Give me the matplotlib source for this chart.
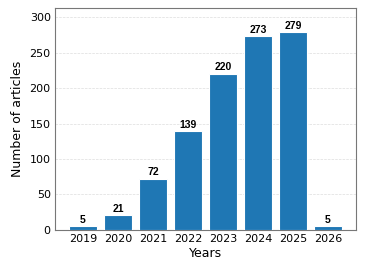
import matplotlib
matplotlib.use("Agg")
import matplotlib.pyplot as plt

years = ["2019", "2020", "2021", "2022", "2023", "2024", "2025", "2026"]
counts = [5, 21, 72, 139, 220, 273, 279, 5]

fig = plt.figure(figsize=(3.76, 2.64), dpi=100)
ax = fig.add_axes([0.146, 0.129, 0.801, 0.841])

bars = ax.bar(range(len(years)), counts, width=0.8, color="#1f77b4",
              edgecolor="white", linewidth=0.8, zorder=3)
for i, c in enumerate(counts):
    ax.text(i, c + 2, str(c), ha="center", va="bottom", fontsize=7.5,
            fontweight="bold", family="Liberation Sans")

ax.set_xticks(range(len(years)))
ax.set_xticklabels(years)
ax.set_xlim(-0.8, 7.8)
ax.set_ylim(0, 313)
ax.set_yticks([0, 50, 100, 150, 200, 250, 300])
ax.tick_params(axis="both", length=0, labelsize=8, pad=3)
ax.grid(axis="y", color="#dddddd", linestyle="--", linewidth=0.5, zorder=0)
for s in ax.spines.values():
    s.set_color("#777777")
    s.set_linewidth(0.8)
ax.set_xlabel("Years", fontsize=9, labelpad=2)
ax.set_ylabel("Number of articles", fontsize=9)

fig.savefig("out.png", dpi=100)
